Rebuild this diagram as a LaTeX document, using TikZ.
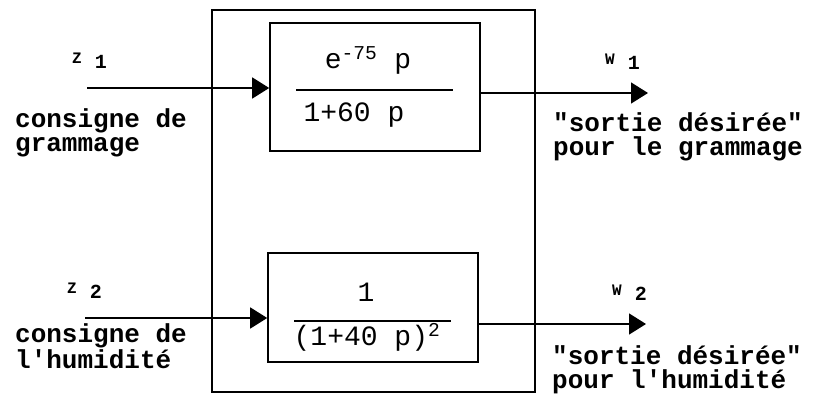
\documentclass[tikz,border=0pt]{standalone}
\usepackage{fontspec}
\newfontfamily\machine{Liberation Mono}
\usetikzlibrary{arrows.meta,positioning,calc}

\tikzset{
  bloc/.style={draw,line width=1.6pt,inner sep=0pt},
  etiq/.style={font=\machine\fontsize{26}{24}\selectfont\bfseries,align=left,anchor=base west,inner sep=0pt},
  frac/.style={font=\machine\fontsize{28}{30}\selectfont,inner sep=0pt},
  signal/.style={line width=1.5pt,-{Triangle[length=17pt,width=21pt]}},
}
\newcommand{\ind}[2]{{\fontsize{16}{16}\selectfont\bfseries #1}\hspace{13pt}\raisebox{-5pt}{\fontsize{20}{20}\selectfont\bfseries #2}}

\begin{document}
\begin{tikzpicture}[x=1pt,y=-1pt]
\useasboundingbox (0,0) rectangle (816,409);
% systeme global
\node[bloc,minimum width=323pt,minimum height=382pt] (sys) at (373.5,201) {};
% blocs de transfert
\node[bloc,minimum width=210pt,minimum height=128pt] (g1) at (375,87) {};
\node[bloc,minimum width=210pt,minimum height=109pt] (g2) at (373,307.5) {};
\node[frac] (num1) at (368,60) {e\textsuperscript{-75} p};
\node[frac] (den1) at (354,115) {1+60 p};
\draw[line width=1.3pt] ($(g1.west)+(27,3)$) -- ($(g1.east)+(-28,3)$);
\node[frac] (num2) at (366,292) {1};
\node[frac] (den2) at (367,337) {(1+40 p)\textsuperscript{2}};
\draw[line width=1.3pt] ($(g2.west)+(27,13.5)$) -- ($(g2.east)+(-28,13.5)$);
% entrees et sorties
\coordinate (z1) at (87,88);
\coordinate (w1) at (648,93);
\coordinate (z2) at (85,318);
\coordinate (w2) at (646,324);
\draw[signal] (z1) -- (z1 -| g1.west);
\draw[signal] (w1 -| g1.east) -- (w1);
\draw[signal] (z2) -- (z2 -| g2.west);
\draw[signal] (w2 -| g2.east) -- (w2);
% etiquettes
\node[etiq] (z1lab) at (72,64) {\ind{Z}{1}};
\node[etiq] (w1lab) at (605,65) {\ind{W}{1}};
\node[etiq] (z2lab) at (67,293) {\ind{Z}{2}};
\node[etiq] (w2lab) at (612,295) {\ind{W}{2}};
\node[etiq] (cons1) at (15,151) {consigne de\\grammage};
\node[etiq] (sort1) at (553,155) {"sortie désirée"\\pour le grammage};
\node[etiq] (cons2) at (15,368) {consigne de\\l'humidité};
\node[etiq] (sort2) at (552,388) {"sortie désirée"\\pour l'humidité};
\end{tikzpicture}
\end{document}
